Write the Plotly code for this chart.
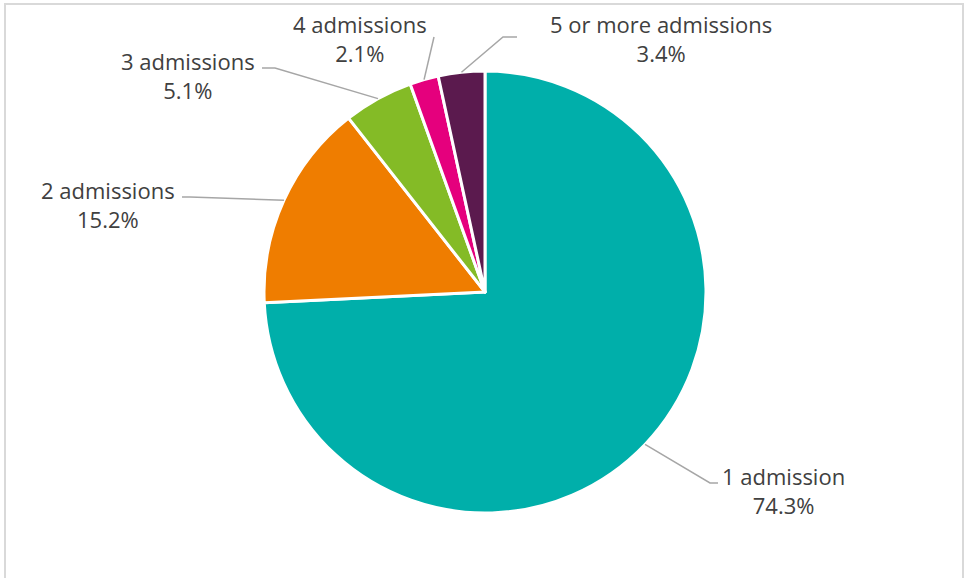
import math
import plotly.graph_objects as go

# Share of patients by number of admissions
categories = ["1 admission", "2 admissions", "3 admissions", "4 admissions", "5 or more admissions"]
shares = [74.3, 15.2, 5.1, 2.1, 3.4]
colors = ["#00AFAA", "#EF7D00", "#84BB26", "#E5007D", "#5B1A4E"]

W, H = 965, 578
# Pie placement in pixels
CX, CY, R = 485, 292, 221

# Label geometry in pixels: text block centre, leader elbow, leader end
label_pos = [(783, 490), (108, 204), (188, 75), (360, 38), (661, 38)]
elbows = [(710, 483), (190, 197), (275, 68), (434, 37), (503, 37)]
ends = [(718, 483), (182, 197), (262, 68), (434, 37), (517, 37)]


def px(x):
    return x / W


def py(y):
    return 1 - y / H


fig = go.Figure(
    go.Pie(
        labels=categories,
        values=shares,
        sort=False,
        direction="clockwise",
        rotation=0,
        marker=dict(colors=colors, line=dict(color="white", width=3)),
        textinfo="none",
        hoverinfo="label+percent",
        showlegend=False,
        domain=dict(x=[px(CX - R), px(CX + R)], y=[py(CY + R), py(CY - R)]),
    )
)

total = sum(shares)
shapes = []
annotations = []
cum = 0.0
for i, (name, v) in enumerate(zip(categories, shares)):
    mid = (cum + v / 2) / total * 2 * math.pi
    cum += v
    sx = CX + R * math.sin(mid)
    sy = CY - R * math.cos(mid)
    ex, ey = elbows[i]
    tx, ty = ends[i]
    path = f"M {px(sx)} {py(sy)} L {px(ex)} {py(ey)} L {px(tx)} {py(ty)}"
    shapes.append(dict(type="path", xref="paper", yref="paper", path=path,
                       line=dict(color="#A6A6A6", width=1.5)))
    lx, ly = label_pos[i]
    annotations.append(dict(
        x=px(lx), y=py(ly), xref="paper", yref="paper",
        text=f"{name}<br>{v:.1f}%", showarrow=False,
        xanchor="center", yanchor="middle", align="center",
        font=dict(family="Open Sans, Arial, sans-serif", size=22, color="#404040"),
    ))

# Chart area frame
shapes.append(dict(type="rect", xref="paper", yref="paper",
                   x0=px(5), x1=px(963), y0=-0.05, y1=py(4),
                   line=dict(color="#D9D9D9", width=2), fillcolor="rgba(0,0,0,0)"))

fig.update_layout(
    width=W, height=H,
    margin=dict(l=0, r=0, t=0, b=0),
    paper_bgcolor="white",
    plot_bgcolor="white",
    shapes=shapes,
    annotations=annotations,
)

fig.write_html("out.html")
